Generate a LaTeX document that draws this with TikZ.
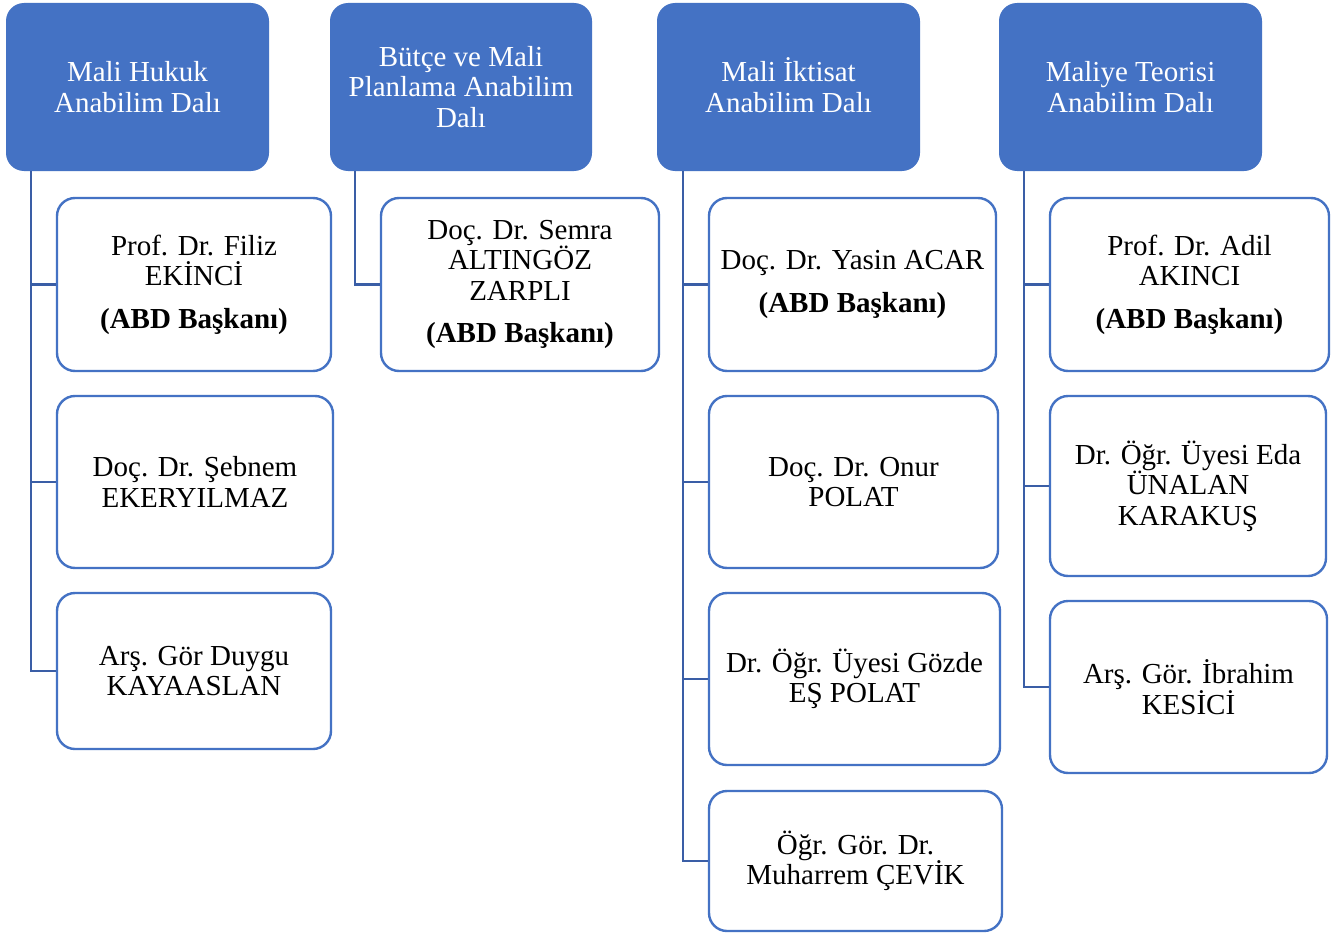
\documentclass[tikz,border=0pt]{standalone}
\usepackage{fontspec}
\setmainfont{Liberation Serif}
\usetikzlibrary{calc}
\definecolor{hdrblue}{HTML}{4472C4}
\definecolor{linkblue}{HTML}{3A5EA6}
\begin{document}
\begin{tikzpicture}[x=1pt,y=-1pt,
  hdr/.style={draw=none, fill=hdrblue, rounded corners=18pt, text=white, align=center,
    font=\fontsize{29}{30.5}\selectfont, inner sep=0pt, minimum height=168pt},
  mem/.style={draw=hdrblue, line width=2.4pt, fill=white, rounded corners=18pt, align=center,
    font=\fontsize{29}{30.5}\selectfont, inner sep=0pt},
  link/.style={draw=linkblue, line width=2.6pt}]
\useasboundingbox[fill=white] (0,0) rectangle (1339,934);

% headers
\node[hdr, minimum width=263pt] (h1) at (137.5,87) {Mali Hukuk\\Anabilim Dalı};
\node[hdr, minimum width=262pt] (h2) at (461,87) {Bütçe ve Mali\\Planlama Anabilim\\Dalı};
\node[hdr, minimum width=263pt] (h3) at (788.5,87) {Mali \smash{İ}ktisat\\Anabilim Dalı};
\node[hdr, minimum width=263pt] (h4) at (1130.5,87) {Maliye Teorisi\\Anabilim Dalı};

% trunk coordinates
\coordinate (t1) at ($(h1.south west)+(25,0)$);
\coordinate (t2) at ($(h2.south west)+(25,0)$);
\coordinate (t3) at ($(h3.south west)+(26,0)$);
\coordinate (t4) at ($(h4.south west)+(25,0)$);

% members column 1
\node[mem, minimum width=274pt, minimum height=173pt] (a1) at (194,284.5) {Prof. Dr. Filiz\\EKİNCİ\\[12pt]\textbf{(ABD Başkanı)}};
\node[mem, minimum width=276pt, minimum height=172pt] (a2) at (195,482) {Doç. Dr. Şebnem\\EKERYILMAZ};
\node[mem, minimum width=274pt, minimum height=156pt] (a3) at (194,671) {Arş. Gör Duygu\\KAYAASLAN};

% column 2
\node[mem, minimum width=278pt, minimum height=173pt] (b1) at (520,284.5) {Doç. Dr. Semra\\ALTINGÖZ\\ZARPLI\\[12pt]\textbf{(ABD Başkanı)}};

% column 3
\node[mem, minimum width=287pt, minimum height=173pt] (c1) at (852.5,284.5) {Doç. Dr. Yasin ACAR\\[12pt]\textbf{(ABD Başkanı)}};
\node[mem, minimum width=289pt, minimum height=172pt] (c2) at (853.5,482) {Doç. Dr. Onur\\POLAT};
\node[mem, minimum width=291pt, minimum height=172pt] (c3) at (854.5,679) {Dr. Öğr. Üyesi Gözde\\EŞ POLAT};
\node[mem, minimum width=293pt, minimum height=140pt] (c4) at (855.5,861) {Öğr. Gör. Dr.\\Muharrem ÇEVİK};

% column 4
\node[mem, minimum width=279pt, minimum height=173pt] (d1) at (1189.5,284.5) {Prof. Dr. Adil\\AKINCI\\[12pt]\textbf{(ABD Başkanı)}};
\node[mem, minimum width=276pt, minimum height=180pt] (d2) at (1188,486) {Dr. Öğr. Üyesi Eda\\ÜNALAN\\KARAKUŞ};
\node[mem, minimum width=277pt, minimum height=172pt] (d3) at (1188.5,687) {Arş. Gör. İbrahim\\KESİCİ};

% connectors
\draw[link] (t1) |- (a3.west);
\draw[link] (a1.west) -- (a1.west -| t1);
\draw[link] (a2.west) -- (a2.west -| t1);

\draw[link] (t2) |- (b1.west);

\draw[link] (t3) |- (c4.west);
\draw[link] (c1.west) -- (c1.west -| t3);
\draw[link] (c2.west) -- (c2.west -| t3);
\draw[link] (c3.west) -- (c3.west -| t3);

\draw[link] (t4) |- (d3.west);
\draw[link] (d1.west) -- (d1.west -| t4);
\draw[link] (d2.west) -- (d2.west -| t4);
\end{tikzpicture}
\end{document}
